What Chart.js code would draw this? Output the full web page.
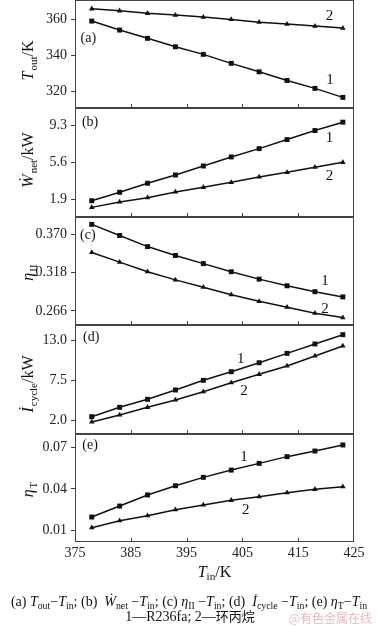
<!DOCTYPE html>
<html lang="zh">
<head>
<meta charset="UTF-8">
<title>ORC Tin curves</title>
<script src="https://cdn.jsdelivr.net/npm/chart.js"></script>
<style>
    body { margin: 0; background: #fff; }
    #wrap {
        position: relative; width: 378px; height: 626px; overflow: hidden;
        font-family: 'Liberation Serif', 'DejaVu Serif', serif; color: #111;
    }
    canvas { position: absolute; left: 0; }
    .line { position: absolute; left: 0; white-space: nowrap; text-align: center; }
    sub { font-size: 70%; vertical-align: -3px; line-height: 0; }
    #xtitle { top: 563px; width: 429px; font-size: 16px; line-height: 18px; }
    #caption { top: 594px; width: 378px; font-size: 14px; line-height: 15px; }
    #legend { top: 608px; width: 380px; font-size: 14px; line-height: 15px; }
    #legend .cn { font-family: 'Noto Sans CJK SC', sans-serif; font-size: 13px; }
    #mark { position: absolute; right: 6px; top: 609px; font-family: 'Noto Sans CJK SC', sans-serif;
            font-size: 12px; color: #e2bcbc; }
</style>
</head>
<body>
<div id="wrap">
    <canvas id="pA" width="378" height="118"></canvas>
    <canvas id="pB" width="378" height="129"></canvas>
    <canvas id="pC" width="378" height="128"></canvas>
    <canvas id="pD" width="378" height="129"></canvas>
    <canvas id="pE" width="378" height="144"></canvas>
    <div class="line" id="xtitle"><i>T</i><sub>in</sub>/K</div>
    <div class="line" id="caption">(a) <i>T</i><sub>out</sub>−<i>T</i><sub>in</sub>; (b) &nbsp;<i>Ẇ</i><sub>net</sub> −<i>T</i><sub>in</sub>; (c) <i>η</i><sub>II</sub> −<i>T</i><sub>in</sub>; (d) &nbsp;<i>İ</i><sub>cycle</sub> −<i>T</i><sub>in</sub>; (e) <i>η</i><sub>T</sub>−<i>T</i><sub>in</sub></div>
    <div class="line" id="legend">1—R236fa; 2—<span class="cn">环丙烷</span></div>
    <div id="mark">@有色金属在线</div>
</div>

<script>
    // inlet temperature, K
    const tempIn = [378, 383, 388, 393, 398, 403, 408, 413, 418, 423];
    const xTicks = [375, 385, 395, 405, 415, 425];

    // (a) outlet temperature, K
    const toutR236fa = [358.9, 353.9, 349.3, 344.6, 340.4, 335.4, 330.7, 325.9, 321.5, 316.5];
    const toutCyclo = [365.7, 364.6, 363.2, 362.2, 361.1, 359.8, 358.3, 357.2, 356.1, 355.0];
    const ticksA = [320, 340, 360];

    // (b) net power, kW
    const wnetR236fa = [1.74, 2.59, 3.50, 4.33, 5.24, 6.15, 6.99, 7.90, 8.81, 9.65];
    const wnetCyclo = [1.07, 1.61, 2.04, 2.62, 3.09, 3.59, 4.13, 4.60, 5.11, 5.61];
    const ticksB = [1.9, 5.6, 9.3];

    // (c) exergy efficiency
    const etaIIR236fa = [0.383, 0.368, 0.353, 0.341, 0.330, 0.319, 0.309, 0.300, 0.292, 0.285];
    const etaIICyclo = [0.345, 0.332, 0.319, 0.308, 0.298, 0.288, 0.279, 0.271, 0.263, 0.257];
    const ticksC = [0.266, 0.318, 0.370];

    // (d) cycle exergy loss, kW
    const icycleR236fa = [2.52, 3.81, 4.91, 6.19, 7.52, 8.71, 9.94, 11.23, 12.52, 13.80];
    const icycleCyclo = [1.79, 2.75, 3.81, 4.82, 5.96, 7.20, 8.35, 9.49, 10.87, 12.24];
    const ticksD = [2.0, 7.5, 13.0];

    // (e) thermal efficiency
    const etaTR236fa = [0.0195, 0.0275, 0.0356, 0.0423, 0.0484, 0.0537, 0.0586, 0.0635, 0.0676, 0.0720];
    const etaTCyclo = [0.0117, 0.0168, 0.0205, 0.0248, 0.0283, 0.0317, 0.0343, 0.0372, 0.0397, 0.0416];
    const ticksE = [0.01, 0.04, 0.07];

    const SERIF = "'Liberation Serif', 'DejaVu Serif', serif";

    // draws frame, inner x ticks, in-plot labels and the rotated y title
    const framePlugin = {
        id: 'frame',
        afterDraw(chart, args, opts) {
            const { ctx, chartArea: a, scales } = chart;
            ctx.save();
            ctx.strokeStyle = '#444';
            ctx.lineWidth = 1;
            ctx.strokeRect(a.left + 0.5, a.top + 0.5, a.right - a.left - 1, a.bottom - a.top - 1);
            ctx.beginPath();
            xTicks.slice(1, -1).forEach(v => {
                const x = Math.round(scales.x.getPixelForValue(v)) + 0.5;
                ctx.moveTo(x, a.bottom);
                ctx.lineTo(x, a.bottom - 4);
            });
            ctx.stroke();

            ctx.fillStyle = '#111';
            ctx.textAlign = 'center';
            ctx.textBaseline = 'middle';
            opts.labels.forEach(l => {
                ctx.font = l.size + 'px ' + SERIF;
                ctx.fillText(l.text, scales.x.getPixelForValue(l.x), scales.y.getPixelForValue(l.y));
            });

            // y title, reading bottom to top
            const cy = (a.top + a.bottom) / 2 + opts.titleShift;
            ctx.translate(28, cy);
            ctx.rotate(-Math.PI / 2);
            ctx.textAlign = 'left';
            ctx.textBaseline = 'alphabetic';
            const fontOf = s => (s.i ? 'italic ' : '') + (s.sub ? '11px ' : '16px ') + SERIF;
            let total = 0;
            opts.title.forEach(s => { ctx.font = fontOf(s); s.w = ctx.measureText(s.t).width; total += s.w; });
            let x = -total / 2;
            opts.title.forEach(s => {
                ctx.font = fontOf(s);
                ctx.fillText(s.t, x, s.sub ? 9 : 5);
                x += s.w + (s.i ? 1 : 0);
            });
            ctx.restore();
        }
    };

    function makePanel(id, top, cfg) {
        const canvas = document.getElementById(id);
        canvas.style.top = top + 'px';
        const series = (vals, style, r) => ({
            data: tempIn.map((t, i) => ({ x: t, y: vals[i] })),
            borderColor: '#111', backgroundColor: '#111', borderWidth: 1.5,
            pointStyle: style, pointRadius: r, pointBorderWidth: 0,
            tension: 0, fill: false
        });
        return new Chart(canvas, {
            type: 'line',
            data: { datasets: [series(cfg.s1, 'rect', 3.5), series(cfg.s2, 'triangle', 3.2)] },
            options: {
                responsive: false, animation: false, devicePixelRatio: 1,
                layout: { autoPadding: false, padding: { top: cfg.padTop, bottom: cfg.padBottom, left: 0, right: 24 } },
                plugins: {
                    legend: { display: false }, tooltip: { enabled: false },
                    frame: { labels: cfg.labels, title: cfg.title, titleShift: cfg.titleShift }
                },
                scales: {
                    x: {
                        type: 'linear', min: 375, max: 425, display: cfg.showX,
                        afterBuildTicks: s => { s.ticks = xTicks.map(v => ({ value: v })); },
                        afterFit: s => {
                            s.height = cfg.showX ? 26 : 0;
                            s.paddingLeft = 0; s.paddingRight = 0;
                        },
                        grid: { display: false, drawTicks: false },
                        border: { display: false },
                        ticks: { padding: 3, color: '#222', font: { family: SERIF, size: 14 } }
                    },
                    y: {
                        type: 'linear', min: cfg.min, max: cfg.max,
                        afterBuildTicks: s => { s.ticks = cfg.ticks.map(v => ({ value: v })); },
                        afterFit: s => { s.width = 75; s.paddingTop = 0; s.paddingBottom = 0; },
                        grid: { drawOnChartArea: false, drawTicks: true, tickLength: 4, color: '#444' },
                        border: { display: false },
                        ticks: {
                            padding: 4, color: '#222', font: { family: SERIF, size: 14 },
                            callback: v => v.toFixed(cfg.dec)
                        }
                    }
                }
            },
            plugins: [framePlugin]
        });
    }

    makePanel('pA', 0, {
        s1: toutR236fa, s2: toutCyclo, ticks: ticksA, dec: 0, min: 310.6, max: 370.6,
        padTop: 0, padBottom: 10, showX: false, titleShift: 7,
        title: [{ t: 'T', i: true }, { t: 'out', sub: true }, { t: '/K' }],
        labels: [{ text: '(a)', x: 377.4, y: 349.4, size: 14 }, { text: '2', x: 420.6, y: 361.7, size: 15 }, { text: '1', x: 420.7, y: 326.1, size: 15 }]
    });
    makePanel('pB', 98, {
        s1: wnetR236fa, s2: wnetCyclo, ticks: ticksB, dec: 1, min: 0.10, max: 11.08,
        padTop: 10, padBottom: 10, showX: false, titleShift: -2,
        title: [{ t: 'Ẇ', i: true }, { t: 'net', sub: true }, { t: '/kW' }],
        labels: [{ text: '(b)', x: 377.7, y: 9.67, size: 14 }, { text: '1', x: 420.6, y: 8.06, size: 15 }, { text: '2', x: 420.6, y: 4.23, size: 15 }]
    });
    makePanel('pC', 207, {
        s1: etaIIR236fa, s2: etaIICyclo, ticks: ticksC, dec: 3, min: 0.247, max: 0.393,
        padTop: 10, padBottom: 10, showX: false, titleShift: 2,
        title: [{ t: 'η', i: true }, { t: 'II', sub: true }],
        labels: [{ text: '(c)', x: 377.3, y: 0.3686, size: 14 }, { text: '1', x: 419.8, y: 0.3065, size: 15 }, { text: '2', x: 419.8, y: 0.2686, size: 15 }]
    });
    makePanel('pD', 315, {
        s1: icycleR236fa, s2: icycleCyclo, ticks: ticksD, dec: 1, min: 0.14, max: 15.13,
        padTop: 10, padBottom: 10, showX: false, titleShift: 5,
        title: [{ t: 'İ', i: true }, { t: 'cycle', sub: true }, { t: '/kW' }],
        labels: [{ text: '(d)', x: 377.9, y: 13.48, size: 14 }, { text: '1', x: 404.7, y: 10.46, size: 15 }, { text: '2', x: 405.3, y: 6.05, size: 15 }]
    });
    makePanel('pE', 424, {
        s1: etaTR236fa, s2: etaTCyclo, ticks: ticksE, dec: 2, min: 0.0013, max: 0.080,
        padTop: 10, padBottom: 0, showX: true, titleShift: 2,
        title: [{ t: 'η', i: true }, { t: 'T', sub: true }],
        labels: [{ text: '(e)', x: 377.7, y: 0.0720, size: 14 }, { text: '1', x: 405.3, y: 0.0632, size: 15 }, { text: '2', x: 405.6, y: 0.0246, size: 15 }]
    });
</script>
</body>
</html>
